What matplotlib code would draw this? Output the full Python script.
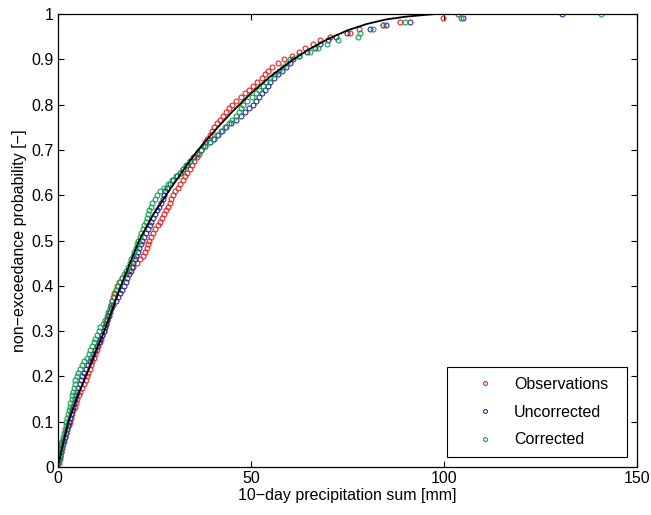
import matplotlib
matplotlib.use("Agg")
import matplotlib.pyplot as plt
import numpy as np

# sorted 10-day sums [mm]
obs = [0.2, 0.4, 0.6, 0.8, 0.85, 0.9,
       1.3, 1.7, 2.1, 2.4, 2.8, 3.1,
       3.4, 3.7, 4.0, 4.3, 4.7, 5.0,
       5.4, 5.8, 6.3, 6.8, 7.2, 7.6,
       7.9, 8.2, 8.6, 8.9, 9.3, 9.6,
       10.0, 10.4, 10.8, 11.1, 11.5, 11.8,
       12.1, 12.4, 12.8, 13.0, 13.3, 13.6,
       13.8, 14.0, 14.3, 14.6, 14.9, 15.2,
       15.8, 16.6, 17.5, 18.5, 19.5, 20.5,
       21.3, 22.0, 22.6, 23.0, 23.3, 23.5,
       24.0, 24.6, 25.2, 25.8, 26.4, 26.9,
       27.4, 27.9, 28.4, 28.9, 29.4, 29.8,
       30.3, 31.0, 31.7, 32.3, 32.9, 33.5,
       34.1, 34.7, 35.3, 35.9, 36.5, 37.0,
       37.5, 38.0, 38.6, 39.3, 39.9, 40.5,
       41.2, 42.0, 42.8, 43.6, 44.4, 45.2,
       46.2, 47.3, 48.4, 49.5, 50.5, 51.5,
       52.8, 53.6, 54.3, 55.5, 57.0, 58.5,
       60.5, 62.5, 64.0, 66.0, 68.0, 70.5,
       75.6, 78.0, 84.2, 88.6, 99.7, 103.6]

uncorr = [0.1, 0.3, 0.6, 0.8, 1.0, 1.3,
          1.5, 1.8, 2.0, 2.3, 2.6, 2.8,
          3.1, 3.3, 3.6, 3.9, 4.1, 4.4,
          4.7, 5.0, 5.3, 5.6, 5.9, 6.2,
          6.7, 7.2, 7.7, 8.2, 8.6, 9.0,
          9.5, 10.0, 10.5, 11.0, 11.4, 11.8,
          12.1, 12.5, 12.8, 13.1, 13.5, 13.8,
          14.3, 14.9, 15.5, 16.1, 16.7, 17.2,
          17.6, 18.0, 18.4, 18.8, 19.2, 19.5,
          19.9, 20.3, 20.7, 21.1, 21.5, 21.8,
          22.3, 22.8, 23.3, 23.8, 24.2, 24.6,
          25.1, 25.6, 26.1, 26.6, 27.1, 27.5,
          27.8, 28.3, 29.0, 29.8, 30.7, 31.5,
          32.4, 33.3, 34.3, 35.2, 36.1, 37.0,
          38.2, 39.5, 40.5, 41.5, 42.5, 43.5,
          44.8, 46.0, 47.3, 48.5, 49.6, 50.5,
          51.3, 52.0, 52.8, 53.5, 54.3, 55.0,
          56.0, 57.0, 58.0, 59.0, 60.0, 61.0,
          62.5, 64.5, 66.5, 68.0, 70.0, 72.0,
          74.8, 80.8, 85.1, 91.2, 105.0, 130.5]

corr = [0.0, 0.2, 0.4, 0.6, 0.75, 0.9,
        1.1, 1.3, 1.5, 1.8, 2.0, 2.2,
        2.4, 2.6, 2.8, 3.0, 3.2, 3.5,
        3.7, 3.9, 4.1, 4.3, 4.5, 4.8,
        5.2, 5.7, 6.3, 6.8, 7.4, 8.0,
        8.4, 8.8, 9.3, 9.7, 10.1, 10.5,
        11.0, 11.6, 12.1, 12.6, 13.0, 13.5,
        13.8, 14.1, 14.4, 14.8, 15.1, 15.5,
        16.0, 16.6, 17.2, 17.7, 18.2, 18.7,
        19.0, 19.4, 19.8, 20.1, 20.5, 20.8,
        21.2, 21.6, 22.0, 22.3, 22.7, 23.0,
        23.3, 23.6, 24.0, 24.4, 25.0, 25.6,
        26.5, 27.5, 28.5, 29.5, 30.5, 31.5,
        32.3, 33.2, 34.2, 35.1, 36.0, 37.0,
        38.0, 39.3, 40.2, 41.2, 42.2, 43.2,
        44.2, 45.2, 46.2, 47.0, 47.5, 48.0,
        49.0, 50.2, 51.2, 52.2, 53.2, 54.0,
        55.0, 56.2, 57.2, 58.2, 59.2, 60.0,
        62.5, 65.3, 67.4, 69.6, 72.5, 77.7,
        78.2, 81.6, 84.2, 89.9, 104.4, 140.7]

# fitted distribution (black line)
fit_x = [0, 1, 2.7, 5, 7.2, 10, 12, 16.3, 21, 24.5, 28, 32, 36, 40, 45,
         50, 55, 60, 65, 70, 75, 80, 85, 90, 95, 98]
fit_p = [0, 0.04, 0.1, 0.155, 0.2, 0.26, 0.3, 0.4, 0.5, 0.555, 0.6, 0.65,
         0.697, 0.737, 0.783, 0.825, 0.862, 0.894, 0.922, 0.945, 0.964,
         0.978, 0.988, 0.994, 0.998, 1.0]

labels = ['Observations', 'Uncorrected', 'Corrected']
colors = ['#ee2020', '#2a2a9c', '#10a050']
fs = 11.5

plt.rcParams['font.family'] = ['Liberation Sans', 'DejaVu Sans']

fig = plt.figure(figsize=(6.51, 5.15), dpi=100)
ax = fig.add_axes([0.0891, 0.0932, 0.8894, 0.8796])

for data, lab, col in zip([obs, uncorr, corr], labels, colors):
    x = np.sort(np.array(data))
    p = np.arange(1, len(x) + 1) / len(x)
    ax.plot(x, p, 'o', ms=3.5, mfc='none', mec=col, mew=0.8, label=lab)

ax.plot(fit_x, fit_p, '-', color='k', lw=1.3)

ax.set_xlim(0, 150)
ax.set_ylim(0, 1)
ax.set_xticks([0, 50, 100, 150])
ax.set_yticks(np.arange(0, 1.01, 0.1))
ax.set_yticklabels(['0', '0.1', '0.2', '0.3', '0.4', '0.5', '0.6', '0.7',
                    '0.8', '0.9', '1'])
ax.tick_params(direction='in', top=True, right=True, length=4.5, width=0.8,
               labelsize=fs, pad=3)
for s in ax.spines.values():
    s.set_linewidth(0.9)

ax.set_xlabel('10\u2212day precipitation sum [mm]', fontsize=fs, labelpad=1)
ax.set_ylabel('non\u2212exceedance probability [\u2212]', fontsize=fs,
              labelpad=3)

leg = ax.legend(loc='lower left', fontsize=fs, fancybox=False,
                edgecolor='k', framealpha=1, borderpad=0.6, labelspacing=0.8,
                handlelength=3.5, handletextpad=0.1, markerscale=0.8,
                borderaxespad=0, mode='expand',
                bbox_to_anchor=(0.6718, 0.022, 0.3109, 0.2))
leg.get_frame().set_linewidth(0.8)

fig.savefig('out.png', dpi=100)
